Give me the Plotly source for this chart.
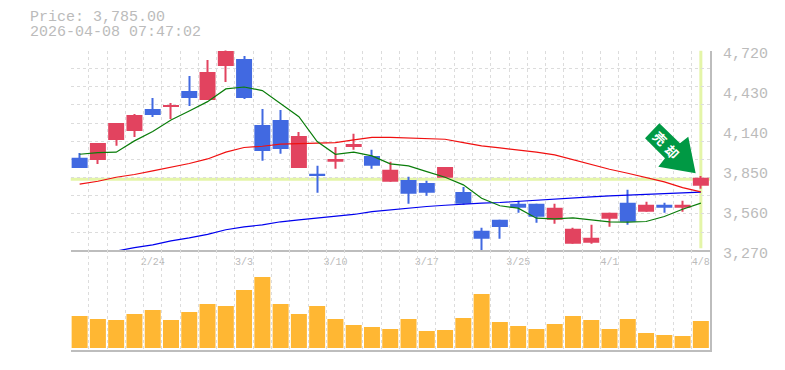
import plotly.graph_objects as go

# --- data ---
current_price = 3785
price_text = "Price: 3,785.00"
time_text = "2026-04-08 07:47:02"
open_ = [3941,3926,4071,4136,4296,4310,4426,4361,4608,4658,4180,4216,3868,3825,3912,4020,3955,3767,3781,3759,3796,3694,3411,3491,3607,3607,3491,3317,3325,3499,3615,3549,3600,3578,3738]
high = [3977,4049,4194,4260,4376,4339,4535,4651,4724,4680,4296,4289,4129,3883,4020,4115,3999,3912,3803,3774,3875,3730,3433,3491,3629,3607,3607,3433,3455,3542,3709,3622,3615,3629,3810]
low = [3868,3897,4028,4093,4238,4223,4318,4361,4492,4368,3919,3970,3868,3687,3861,3999,3861,3767,3607,3665,3796,3600,3266,3353,3542,3470,3462,3317,3317,3441,3455,3549,3542,3549,3716]
close = [3868,4049,4194,4252,4252,4325,4376,4564,4716,4376,3991,4006,4100,3810,3933,4042,3883,3854,3680,3687,3875,3607,3353,3440,3578,3513,3578,3426,3361,3542,3477,3600,3578,3600,3796]
ma_short = [3967,3979,3982,4064,4132,4216,4281,4349,4441,4455,4429,4337,4240,4059,3967,3982,3955,3897,3883,3841,3800,3745,3648,3593,3576,3503,3498,3506,3489,3477,3474,3479,3515,3568,3612]
ma_mid = [3750,3771,3800,3820,3846,3873,3900,3933,3982,4016,4025,4040,4045,4049,4052,4071,4090,4090,4086,4078,4076,4052,4028,4013,3999,3982,3962,3926,3890,3858,3829,3800,3767,3725,3694]
ma_long = [None,None,3264,3290,3310,3339,3360,3385,3419,3440,3455,3477,3491,3503,3520,3530,3551,3564,3576,3588,3597,3607,3612,3617,3626,3631,3641,3648,3658,3665,3670,3674,3680,3684,3692]
volume = [32,29,28,34,38,28,36,44,42,58,71,44,34,42,29,23,21,19,29,17,18,30,54,26,22,19,24,32,28,19,29,15,13,12,27]
x_idx = list(range(len(close)))
date_pos = [4,9,14,19,24,29,34]
date_labels = ["2/24","3/3","3/10","3/17","3/25","4/1","4/8"]
price_ticks = [3270,3560,3850,4140,4430,4720]
price_labels = ["3,270","3,560","3,850","4,140","4,430","4,720"]
grid_steps = [3270 + 1450*i/11 for i in range(12)]
x_bounds = [i-0.5 for i in range(36)]
badge_chars = ["売","却"]

RED="#e2435f"; BLUE="#4169e1"; ORANGE="#ffb733"; HL="#e4f5a8"; GRID="#dcdcdc"; AXIS="#bdbdbd"; TXT="#bbbbbb"; BADGE="#009944"
FONT="Liberation Mono"

colors = [RED if c >= o else BLUE for o, c in zip(open_, close)]
body_base = [min(o, c) for o, c in zip(open_, close)]
body_len = [abs(c - o) for o, c in zip(open_, close)]
wick_len = [h - l for h, l in zip(high, low)]

fig = go.Figure()
fig.add_trace(go.Bar(x=x_idx,y=wick_len,base=low,width=0.06,marker=dict(color=colors,line=dict(width=0))))
fig.add_trace(go.Bar(x=x_idx,y=body_len,base=body_base,width=0.875,marker=dict(color=colors,line=dict(width=0))))
fig.add_trace(go.Scatter(x=x_idx,y=ma_long,mode="lines",line=dict(color="#0000ee",width=1.2)))
fig.add_trace(go.Scatter(x=x_idx,y=ma_mid,mode="lines",line=dict(color="#f01010",width=1.2)))
fig.add_trace(go.Scatter(x=x_idx,y=ma_short,mode="lines",line=dict(color="#0a7d0a",width=1.2)))
fig.add_trace(go.Bar(x=x_idx,y=volume,marker=dict(color=ORANGE,line=dict(width=0)),width=0.875,xaxis="x2",yaxis="y2"))

H=370.0; W=785.0
L,R=70.5,710.0
def px(x,y):
    return "%.4f,%.4f"%(x/W,1-y/H)
arrow=[(659.3,123.3),(680,143.3),(688.3,136.7),(695.7,173.3),(658.3,166.7),(665,158.3),(645,138.3)]
arrow_path="M "+" L ".join(px(*p) for p in arrow)+" Z"

gridx=dict(tickvals=x_bounds,showgrid=True,gridcolor=GRID,griddash="3px,3px",gridwidth=1,ticks="")
fig.update_layout(
    width=785,height=370,margin=dict(l=0,r=0,t=0,b=0),autosize=False,barmode="overlay",
    paper_bgcolor="white",plot_bgcolor="white",showlegend=False,
    font=dict(family=FONT,color=TXT),
    xaxis=dict(domain=[L/W,R/W],range=[-0.5,34.5],anchor="y",automargin=False,
        tickvals=date_pos,ticktext=date_labels,tickfont=dict(size=10,color=TXT,family=FONT),ticks="",ticklabelstandoff=1,
        showgrid=False,showline=True,linecolor=AXIS,linewidth=2,zeroline=False,minor=gridx),
    yaxis=dict(domain=[1-250.3/H,1-50.5/H],range=[3270,4720],anchor="x",side="right",automargin=False,
        tickvals=price_ticks,ticktext=price_labels,tickfont=dict(size=15,color=TXT,family=FONT),ticks="",ticklabelstandoff=8,ticklabelshift=2,
        showgrid=False,zeroline=False,showline=True,linecolor=AXIS,linewidth=2,
        minor=dict(tickvals=grid_steps,showgrid=True,gridcolor=GRID,griddash="3px,3px",gridwidth=1,ticks="")),
    xaxis2=dict(domain=[L/W,R/W],range=[-0.5,34.5],anchor="y2",automargin=False,showticklabels=False,ticks="",showgrid=False,
        showline=True,linecolor=AXIS,linewidth=2,zeroline=False,minor=gridx),
    yaxis2=dict(domain=[1-349.5/H,1-250.3/H],range=[-1.5,97.7],anchor="x2",side="right",automargin=False,showticklabels=False,ticks="",
        showgrid=False,zeroline=False,showline=True,linecolor=AXIS,linewidth=2),
    shapes=[
        dict(type="line",xref="x",yref="y",x0=-0.5,x1=34.5,y0=current_price,y1=current_price,layer="below",line=dict(color=HL,width=3)),
        dict(type="line",xref="x",yref="y",x0=34,x1=34,y0=3285,y1=4720,layer="below",line=dict(color=HL,width=3)),
        dict(type="path",xref="paper",yref="paper",layer="above",path=arrow_path,fillcolor=BADGE,line=dict(width=0)),
    ],
    annotations=[
        dict(text=price_text,xref="paper",yref="paper",x=28/W,y=1-18/H,xanchor="left",yanchor="middle",showarrow=False,font=dict(size=15,color=TXT,family=FONT)),
        dict(text=time_text,xref="paper",yref="paper",x=28/W,y=1-33/H,xanchor="left",yanchor="middle",showarrow=False,font=dict(size=15,color=TXT,family=FONT)),
        dict(text="<b>%s</b>"%badge_chars[0],xref="paper",yref="paper",x=660.7/W,y=1-138/H,xanchor="center",yanchor="middle",showarrow=False,textangle=45,font=dict(size=13,color="white",family="Noto Sans CJK JP")),
        dict(text="<b>%s</b>"%badge_chars[1],xref="paper",yref="paper",x=672.3/W,y=1-151.3/H,xanchor="center",yanchor="middle",showarrow=False,textangle=45,font=dict(size=13,color="white",family="Noto Sans CJK JP")),
    ],
)
fig.write_html("out.html",config=dict(displayModeBar=False),post_script="document.body.style.margin='0';document.body.style.overflow='hidden';")
